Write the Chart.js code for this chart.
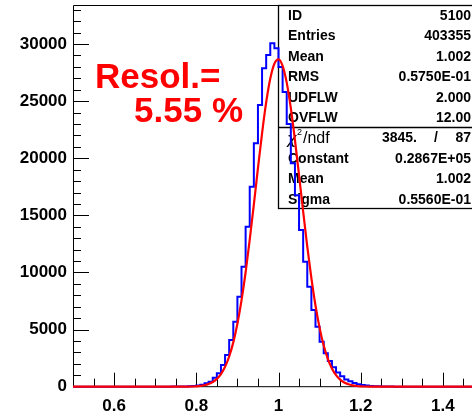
<!DOCTYPE html>
<html>
<head>
<meta charset="utf-8">
<script src="https://cdn.jsdelivr.net/npm/chart.js@4.4.0/dist/chart.umd.min.js"></script>
<style>
  html, body { margin: 0; padding: 0; background: #fff; overflow: hidden; width: 472px; height: 415px; }
  canvas { display: block; }
</style>
</head>
<body>
<canvas id="chart" width="484" height="415"></canvas>
<script>
// histogram: 100 bins of 0.01 from 0.50 to 1.50
const binStart = 0.5;
const binWidth = 0.01;
const counts = [
  0, 0, 0, 0, 0, 0, 0, 0, 0, 0,
  0, 0, 0, 0, 0, 1, 1, 1, 2, 2,
  3, 3, 4, 5, 6, 8, 10, 15, 25, 40,
  70, 110, 180, 300, 440, 790, 1170, 1900, 2780, 4090,
  5690, 7880, 10510, 14010, 17510, 21310, 24670, 27880, 29040, 30070,
  29630, 28000, 25800, 23000, 19560, 16770, 13720, 10950, 8760, 6720,
  5250, 3940, 2920, 2250, 1700, 1250, 920, 640, 470, 320,
  210, 150, 100, 70, 45, 30, 20, 12, 8, 5,
  4, 3, 2, 2, 1, 1, 1, 0, 0, 0,
  0, 0, 0, 0, 0, 0, 0, 0, 0, 0
];

// fitted curve read every 0.01 from 0.70 to 1.30
const fitStart = 0.7;
const fitStep = 0.01;
const fitValues = [
  0, 0, 0, 0, 0, 1, 2, 4, 9, 18,
  36, 70, 130, 234, 407, 683, 1110, 1741, 2643, 3880,
  5510, 7560, 10020, 12870, 15950, 19140, 22190, 24890, 26980, 28280,
  28665, 28090, 26620, 24390, 21600, 18500, 15330, 12270, 9500, 7110,
  5150, 3600, 2440, 1595, 1009, 617, 365, 209, 115, 62,
  32, 16, 8, 4, 2, 1, 0, 0, 0, 0, 0
];

const xTicks = [0.6, 0.8, 1.0, 1.2, 1.4];
const xTickLabels = ['0.6', '0.8', '1', '1.2', '1.4'];
const yTicks = [0, 5000, 10000, 15000, 20000, 25000, 30000];

const statLabels = ['ID', 'Entries', 'Mean', 'RMS', 'UDFLW', 'OVFLW'];
const statValues = ['5100', '403355', '1.002', '0.5750E-01', '2.000', '12.00'];
const chi2 = '3845.';
const ndf = '87';
const fitLabels = ['Constant', 'Mean', 'Sigma'];
const fitParams = ['0.2867E+05', '1.002', '0.5560E-01'];
const resolText = ['Resol.=', '5.55 %'];

const histPoints = counts.map((c, i) => ({ x: +(binStart + i * binWidth).toFixed(2), y: c }));
histPoints.push({ x: binStart + counts.length * binWidth, y: counts[counts.length - 1] });

const fitPoints = [{ x: 0.5, y: 0 }]
  .concat(fitValues.map((v, i) => ({ x: +(fitStart + i * fitStep).toFixed(2), y: v })))
  .concat([{ x: 1.5, y: 0 }]);

const FONT = 'Liberation Sans, Arial, Helvetica, sans-serif';

const decorations = {
  id: 'decorations',
  beforeDatasetsDraw(chart) {
    const { ctx, chartArea: a, scales: { x, y } } = chart;
    ctx.save();
    ctx.strokeStyle = '#000';
    ctx.lineWidth = 1;

    // frame
    ctx.beginPath();
    ctx.moveTo(a.right + 5, a.top + 0.5);
    ctx.lineTo(a.left + 0.5, a.top + 0.5);
    ctx.lineTo(a.left + 0.5, a.bottom);
    ctx.lineTo(a.right + 5, a.bottom);
    ctx.stroke();

    // x ticks (inside)
    for (let i = 1; i < 20; i++) {
      const v = 0.5 + i * 0.05;
      const px = Math.round(x.getPixelForValue(v)) + 0.5;
      const major = i % 4 === 2;
      ctx.beginPath();
      ctx.moveTo(px, a.bottom);
      ctx.lineTo(px, a.bottom - (major ? 14 : 8));
      ctx.stroke();
    }
    // y ticks (inside)
    for (let v = 1000; v <= 33000; v += 1000) {
      const py = Math.round(y.getPixelForValue(v)) + 0.5;
      const major = v % 5000 === 0;
      ctx.beginPath();
      ctx.moveTo(a.left, py);
      ctx.lineTo(a.left + (major ? 16 : 8), py);
      ctx.stroke();
    }

    // stats box
    const bx = 278.5, by = a.top + 0.5, bBottom = 208.5, bDiv = 127.5;
    ctx.lineWidth = 1.3;
    ctx.strokeRect(bx, by, 300, bBottom - by);
    ctx.beginPath();
    ctx.moveTo(bx, bDiv);
    ctx.lineTo(bx + 300, bDiv);
    ctx.stroke();

    ctx.fillStyle = '#000';
    ctx.textBaseline = 'middle';
    ctx.font = 'bold 14px ' + FONT;
    const rowY = i => 16.2 + i * 20.4;
    statLabels.forEach((t, i) => {
      ctx.textAlign = 'left';
      ctx.fillText(t, 288, rowY(i));
      ctx.textAlign = 'right';
      ctx.fillText(statValues[i], 471, rowY(i));
    });
    fitLabels.forEach((t, i) => {
      ctx.textAlign = 'left';
      ctx.fillText(t, 288, rowY(i + 7));
      ctx.textAlign = 'right';
      ctx.fillText(fitParams[i], 471, rowY(i + 7));
    });
    // chi2 row
    const cy = rowY(6);
    ctx.textAlign = 'right';
    ctx.fillText(chi2, 417, cy);
    ctx.fillText(ndf, 471, cy);
    ctx.textAlign = 'center';
    ctx.fillText('/', 436, cy);
    ctx.textAlign = 'left';
    ctx.font = 'italic 16px DejaVu Sans, sans-serif';
    ctx.fillText('\u03c7', 287, cy + 1);
    ctx.font = '9px ' + FONT;
    ctx.fillText('2', 297, cy - 6);
    ctx.font = '16px ' + FONT;
    ctx.fillText('/ndf', 303, cy);

    ctx.restore();
  },
  afterDraw(chart) {
    const { ctx } = chart;
    ctx.save();
    ctx.fillStyle = '#ff0000';
    ctx.font = 'bold 35px ' + FONT;
    ctx.textBaseline = 'alphabetic';
    ctx.textAlign = 'left';
    ctx.fillText(resolText[0], 95, 88);
    ctx.textAlign = 'right';
    ctx.fillText(resolText[1], 243, 121.5);
    ctx.restore();
  }
};

new Chart(document.getElementById('chart'), {
  type: 'line',
  data: {
    datasets: [
      {
        label: 'fit',
        data: fitPoints,
        borderColor: '#ff0000',
        borderWidth: 2.2,
        pointRadius: 0,
        cubicInterpolationMode: 'monotone',
        fill: false,
        clip: 4,
        order: 0
      },
      {
        label: 'histogram',
        data: histPoints,
        borderColor: '#0000ff',
        borderWidth: 2,
        pointRadius: 0,
        stepped: 'after',
        fill: false,
        clip: 4,
        order: 1
      }
    ]
  },
  options: {
    responsive: false,
    animation: false,
    devicePixelRatio: 1,
    layout: { padding: { left: 0, top: 5, right: 0, bottom: 0 } },
    plugins: { legend: { display: false }, tooltip: { enabled: false } },
    scales: {
      x: {
        type: 'linear',
        min: 0.5,
        max: 1.5,
        grid: { display: false, drawTicks: false },
        border: { display: false },
        afterBuildTicks: axis => { axis.ticks = xTicks.map(v => ({ value: v })); },
        afterFit: axis => {
          axis.height = 28.3;
          axis.paddingLeft = 0; axis.paddingRight = 0;
          axis.paddingTop = 0; axis.paddingBottom = 0;
        },
        ticks: {
          autoSkip: false,
          maxRotation: 0,
          padding: 9,
          color: '#000',
          font: { family: FONT, weight: 'bold', size: 17 },
          callback: (v) => xTickLabels[xTicks.findIndex(t => Math.abs(t - v) < 1e-6)]
        }
      },
      y: {
        min: 0,
        max: 33420,
        grid: { display: false, drawTicks: false },
        border: { display: false },
        afterBuildTicks: axis => { axis.ticks = yTicks.map(v => ({ value: v })); },
        afterFit: axis => {
          axis.width = 73;
          axis.paddingTop = 0; axis.paddingBottom = 0;
          axis.paddingLeft = 0; axis.paddingRight = 0;
        },
        ticks: {
          padding: 6,
          color: '#000',
          font: { family: FONT, weight: 'bold', size: 17 },
          callback: v => String(v)
        }
      }
    }
  },
  plugins: [decorations]
});
</script>
</body>
</html>
